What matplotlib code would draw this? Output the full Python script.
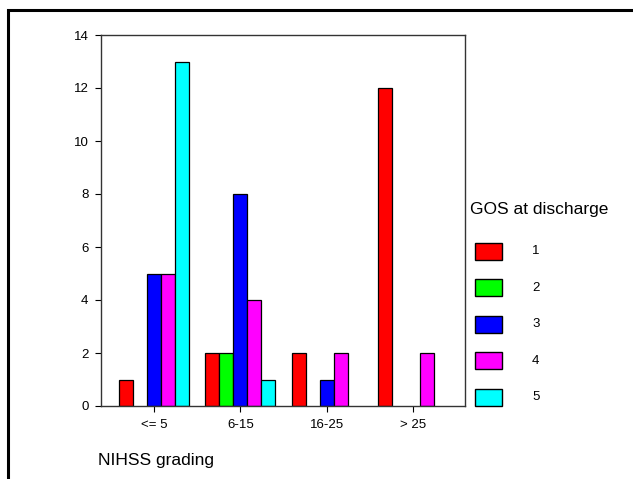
import numpy as np
import matplotlib
matplotlib.use('Agg')
import matplotlib.pyplot as plt
from matplotlib.patches import Rectangle

plt.rcParams['font.family'] = ['Liberation Sans', 'DejaVu Sans']

categories = ['<= 5', '6-15', '16-25', '> 25']
gos_labels = ['1', '2', '3', '4', '5']
gos_colors = ['#ff0000', '#00ff00', '#0000ff', '#ff00ff', '#00ffff']
counts = {
    '1': [1, 2, 2, 12],
    '2': [0, 2, 0, 0],
    '3': [5, 8, 1, 0],
    '4': [5, 4, 2, 2],
    '5': [13, 1, 0, 0],
}
yticks = [0, 2, 4, 6, 8, 10, 12, 14]

W, H = 633, 479
fig = plt.figure(figsize=(W / 100, H / 100), dpi=100)
ax = fig.add_axes([101 / W, 1 - 406 / H, (465 - 101) / W, (406 - 35) / H])

x = np.arange(len(categories))
bw = 0.162
for i, g in enumerate(gos_labels):
    vals = np.array(counts[g])
    keep = vals > 0
    offs = (i - 2) * bw
    ax.bar(x[keep] + offs, vals[keep], width=bw, color=gos_colors[i],
           edgecolor='black', linewidth=0.9, zorder=2)

ax.set_xlim(-0.614, 3.604)
ax.set_ylim(0, 14)
ax.set_yticks(yticks)
ax.set_xticks(x)
ax.set_xticklabels(categories)
ax.tick_params(axis='both', direction='out', length=4, width=0.8,
               labelsize=9.5, colors='black', pad=5)
for s in ax.spines.values():
    s.set_linewidth(1.0)
    s.set_color('#333333')

# outer frame
fig.patches.append(Rectangle((8 / W, -0.1), 1.1, 1 - 10 / H + 0.1,
                             transform=fig.transFigure, fill=False,
                             edgecolor='black', linewidth=2.2))

fig.text(98 / W, 1 - 461 / H, 'NIHSS grading', fontsize=12.5,
         ha='left', va='center')

# legend
fig.text(470 / W, 1 - 209 / H, 'GOS at discharge', fontsize=12.5,
         ha='left', va='center')
for i, g in enumerate(gos_labels):
    yc = 251 + i * 36.6
    fig.patches.append(Rectangle((475 / W, 1 - (yc + 8.5) / H), 27 / W, 17 / H,
                                 transform=fig.transFigure,
                                 facecolor=gos_colors[i], edgecolor='black',
                                 linewidth=1.0))
    fig.text(532 / W, 1 - yc / H, g, fontsize=9.5, ha='left', va='center')

fig.savefig('out.png', dpi=100)
